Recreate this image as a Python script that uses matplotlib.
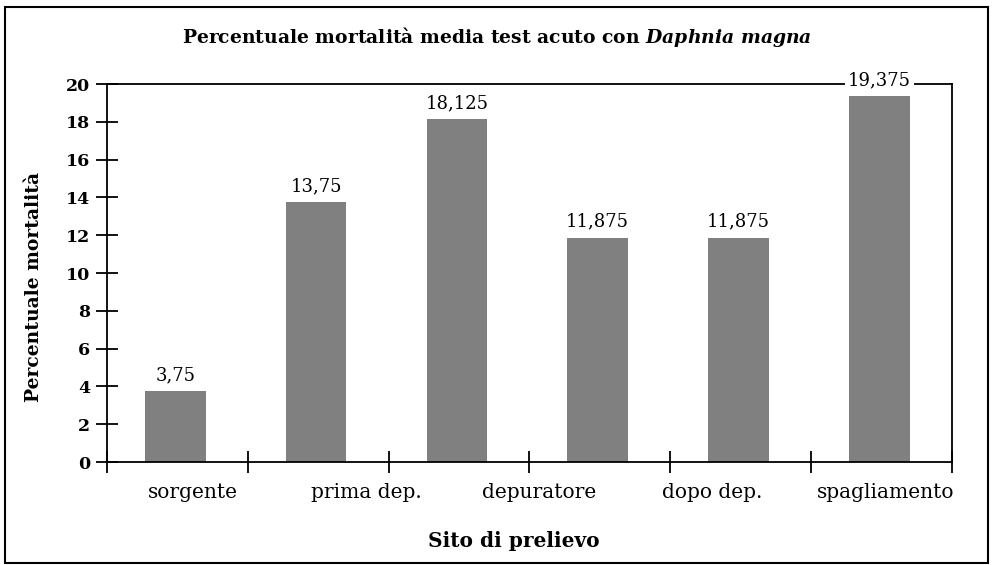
import matplotlib.pyplot as plt
import matplotlib.patches as patches
import numpy as np

mortality = [3.75, 13.75, 18.125, 11.875, 11.875, 19.375]
labels = ["3,75", "13,75", "18,125", "11,875", "11,875", "19,375"]
# five site names under six bars, spaced evenly as in the original sheet
sites = ["sorgente", "prima dep.", "depuratore", "dopo dep.", "spagliamento"]
yticks = list(range(0, 21, 2))

plt.rcParams['font.family'] = 'DejaVu Serif'
plt.rcParams['mathtext.fontset'] = 'custom'
plt.rcParams['mathtext.rm'] = 'DejaVu Serif:bold'
plt.rcParams['mathtext.it'] = 'DejaVu Serif:italic:bold'

fig = plt.figure(figsize=(9.94, 5.65), dpi=100)
ax = fig.add_axes([0.1076, 0.1823, 0.850, 0.669])

x = np.arange(len(mortality))
ax.bar(x - 0.015, mortality, width=0.43, color="#808080", zorder=2)
for xi, val, lab in zip(x, mortality, labels):
    ax.annotate(lab, (xi - 0.015, val), xytext=(0, 5), textcoords="offset points",
                ha="center", va="bottom", fontsize=13,
                bbox=dict(facecolor="white", edgecolor="none", pad=2), zorder=5)

ax.set_xlim(-0.5, len(mortality) - 0.5)
ax.set_ylim(0, 20)
ax.set_yticks(yticks)
ax.set_yticklabels([str(t) for t in yticks], fontweight="bold", fontsize=12.5)

# site names are spread evenly across the axis, not on the bars
ax.set_xticks(np.linspace(0.11, 5.03, len(sites)))
ax.set_xticklabels(sites, fontsize=14.5)
ax.set_xticks(np.arange(-0.5, len(mortality), 1), minor=True)
ax.tick_params(axis="x", which="major", length=0, pad=15)
ax.tick_params(axis="x", which="minor", direction="inout", length=16, width=1.3)
ax.tick_params(axis="y", direction="inout", length=16, width=1.3, pad=4)

for s in ax.spines.values():
    s.set_linewidth(1.3)

ax.set_ylabel("Percentuale mortalità", fontweight="bold", fontsize=13.5)
ax.yaxis.set_label_coords(-0.076, 0.463)
ax.set_xlabel("Sito di prelievo", fontweight="bold", fontsize=14.5)
ax.xaxis.set_label_coords(0.482, -0.183)
fig.text(0.5, 0.935, r"Percentuale mortalità media test acuto con $\mathit{Daphnia\ magna}$",
         ha="center", va="center", fontsize=13.5, fontweight="bold")

fig.patches.append(patches.Rectangle((0.005, 0.004), 0.989, 0.984, transform=fig.transFigure,
                                     fill=False, edgecolor="black", linewidth=1.5))

fig.savefig("out.png", dpi=100)
